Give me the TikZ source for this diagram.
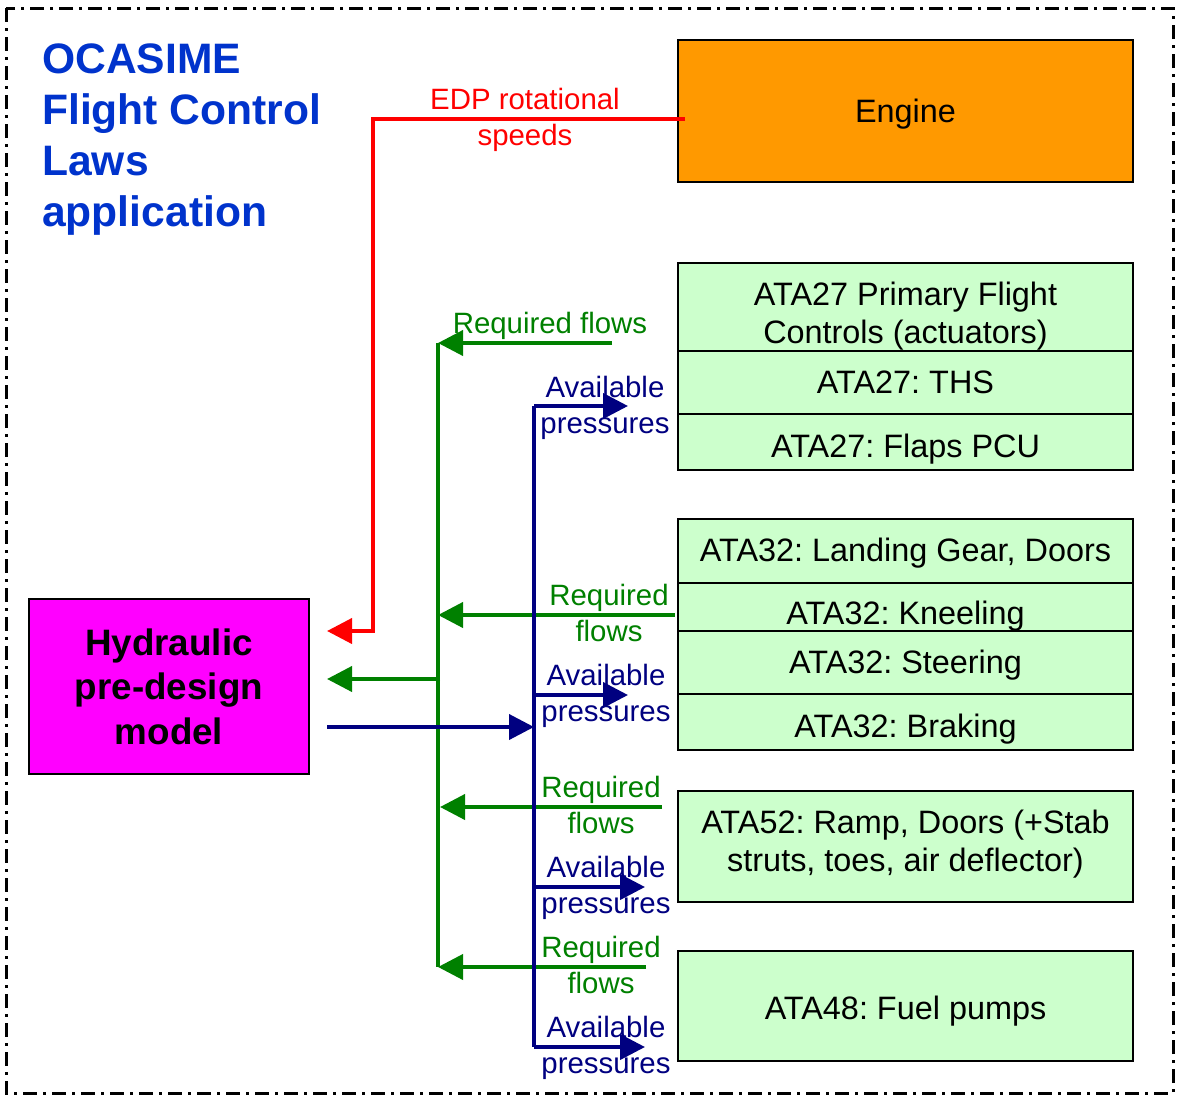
\documentclass[tikz,border=0pt]{standalone}
\usepackage{fontspec}
\setmainfont{Liberation Sans}
\usetikzlibrary{arrows.meta}
\frenchspacing
\definecolor{engorange}{RGB}{255,153,0}
\definecolor{lgreen}{RGB}{204,255,204}
\definecolor{modelmag}{RGB}{255,0,255}
\definecolor{titleblue}{RGB}{0,51,204}
\definecolor{reqgreen}{RGB}{0,128,0}
\definecolor{avnavy}{RGB}{0,0,128}
\definecolor{edpred}{RGB}{255,0,0}
\tikzset{
  frame/.style={draw=black, line width=2pt, inner sep=0pt, minimum width=455pt},
  cell/.style={frame, fill=lgreen},
  txt/.style={font=\fontsize{32.4}{38}\selectfont, align=center, inner sep=0pt},
  lbl/.style={font=\fontsize{29.4}{36}\selectfont, align=center, inner sep=0pt},
  conn/.style={line width=4pt, -{Triangle[length=25pt,width=25pt]}},
  busline/.style={line width=4pt},
}
\begin{document}
\begin{tikzpicture}[x=1pt,y=-1pt]
\useasboundingbox (0,0) rectangle (1177,1098);
% outer border
\draw[line width=3pt, dash pattern=on 14pt off 6pt on 3pt off 6pt] (6,8) rectangle (1173,1093);

% title
\node[font=\fontsize{42.6}{51}\selectfont\bfseries, text=titleblue, align=left, inner sep=0pt, anchor=north west]
  (title) at (42,44) {OCASIME\\Flight Control\\Laws\\application};

% engine
\node[frame, fill=engorange, minimum height=142pt] (engine) at (905.5,111) {};
\node[txt] (engtxt) at (905.5,114) {Engine};

% ATA27
\node[cell, minimum height=88pt] (c27a) at (905.5,307) {};
\node[cell, minimum height=63pt] (c27b) at (905.5,382.5) {};
\node[cell, minimum height=56pt] (c27c) at (905.5,442) {};
\node[txt] (t27a) at (905.5,316) {ATA27 Primary Flight\\Controls (actuators)};
\node[txt] (t27b) at (905.5,382) {ATA27: THS};
\node[txt] (t27c) at (905.5,449) {ATA27: Flaps PCU};

% ATA32
\node[cell, minimum height=64pt] (c32a) at (905.5,551) {};
\node[cell, minimum height=48pt] (c32b) at (905.5,607) {};
\node[cell, minimum height=63pt] (c32c) at (905.5,662.5) {};
\node[cell, minimum height=56pt] (c32d) at (905.5,722) {};
\node[txt] (t32a) at (905.5,553) {ATA32: Landing Gear, Doors};
\node[txt] (t32b) at (905.5,616) {ATA32: Kneeling};
\node[txt] (t32c) at (905.5,665) {ATA32: Steering};
\node[txt] (t32d) at (905.5,729) {ATA32: Braking};

% ATA52
\node[cell, minimum height=111pt] (c52) at (905.5,846.5) {};
\node[txt] (t52) at (905.5,844) {ATA52: Ramp, Doors (+Stab\\struts, toes, air deflector)};

% ATA48
\node[cell, minimum height=110pt] (c48) at (905.5,1006) {};
\node[txt] (t48) at (905.5,1011) {ATA48: Fuel pumps};

% model
\node[draw=black, line width=1.5pt, fill=modelmag, minimum width=280pt, minimum height=175pt,
  inner sep=0pt, font=\fontsize{36.8}{44.5}\selectfont\bfseries, align=center] (model) at (169,686.5)
  {Hydraulic\\pre-design\\model};

% coordinates
\coordinate (redStart) at (685,119);
\coordinate (redTip) at (327,631);
\coordinate (gTop) at (438,343);
\coordinate (gBot) at (438,967);
\coordinate (gOut) at (440,679);
\coordinate (gTip) at (327,679);
\coordinate (bTop) at (534,406);
\coordinate (bBot) at (534,1047);
\coordinate (bIn) at (327,727);
\coordinate (bJoin) at (534,727);
\coordinate (rf1) at (612,343);
\coordinate (rf2) at (675,615);
\coordinate (rf3) at (662,807);
\coordinate (rf4) at (646,967);
\coordinate (ap1) at (628,406);
\coordinate (ap2) at (628,695);
\coordinate (ap3) at (645,887);
\coordinate (ap4) at (645,1047);

% red
\draw[conn, color=edpred] (redStart) -| (373,631) -- (redTip);
\node[lbl, text=edpred] (edp) at (525,120) {EDP rotational\\speeds};

% green bus
\draw[busline, draw=reqgreen] (gTop) -- (gBot);
\draw[conn, color=reqgreen] (rf1) -- (gTop);
\draw[conn, color=reqgreen] (rf2) -- (438,615);
\draw[conn, color=reqgreen] (rf3) -- (440,807);
\draw[conn, color=reqgreen] (rf4) -- (gBot);
\draw[conn, color=reqgreen] (gOut) -- (gTip);

% navy bus
\draw[busline, draw=avnavy] (bTop) -- (bBot);
\draw[conn, color=avnavy] (bTop) -- (ap1);
\draw[conn, color=avnavy] (534,695) -- (ap2);
\draw[conn, color=avnavy] (534,887) -- (ap3);
\draw[conn, color=avnavy] (bBot) -- (ap4);
\draw[conn, color=avnavy] (bIn) -- (bJoin);

% labels
\node[lbl, text=reqgreen] (rl1) at (550,326) {Required flows};
\node[lbl, text=reqgreen] (rl2) at (609,613) {Required\\flows};
\node[lbl, text=reqgreen] (rl3) at (601,805) {Required\\flows};
\node[lbl, text=reqgreen] (rl4) at (601,965) {Required\\flows};
\node[lbl, text=avnavy] (al1) at (605,408) {Available\\pressures};
\node[lbl, text=avnavy] (al2) at (606,696) {Available\\pressures};
\node[lbl, text=avnavy] (al3) at (606,888) {Available\\pressures};
\node[lbl, text=avnavy] (al4) at (606,1048) {Available\\pressures};
\end{tikzpicture}
\end{document}
